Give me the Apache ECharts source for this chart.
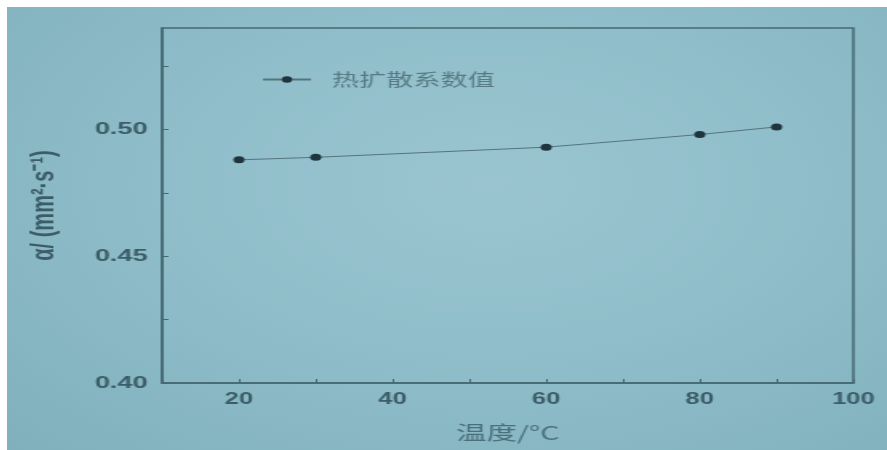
<!DOCTYPE html>
<html>
<head>
<meta charset="utf-8">
<script src="https://cdn.jsdelivr.net/npm/echarts@6/dist/echarts.min.js"></script>
<style>
  html, body { margin: 0; padding: 0; background: #ffffff; }
  #page { position: relative; width: 887px; height: 450px; overflow: hidden; background: #ffffff; }
  #wrap {
    position: absolute; left: 7px; top: 7px; width: 880px; height: 443px; overflow: hidden;
    background: radial-gradient(ellipse at 55% 40%, #9ac5d0 0%, #8dbcc8 55%, #7fb0bc 100%);
  }
  /* the figure is drawn narrow and widened horizontally */
  #chart { width: 550px; height: 443px; transform: scaleX(1.6); transform-origin: 0 0; }
</style>
</head>
<body>
<div id="page"><div id="wrap"><div id="chart"></div></div></div>
<script>
// temperature (°C) and thermal diffusivity α (mm²·s⁻¹)
const temps = [20, 30, 60, 80, 90];
const alpha = [0.488, 0.489, 0.493, 0.498, 0.501];
const seriesName = '热扩散系数值';
const xName = '温度/°C';
const yName = 'α/ (mm²·s⁻¹)';

const ink = '#3c5d68';
const axisInk = '#456873';

const chart = echarts.init(document.getElementById('chart'), null, { renderer: 'canvas' });
chart.setOption({
  backgroundColor: 'transparent',
  animation: false,
  grid: {
    left: 97, right: 21, top: 21, bottom: 67,
    show: true, borderColor: axisInk, borderWidth: 1.5, backgroundColor: 'transparent'
  },
  legend: {
    left: 154, top: 59,
    itemWidth: 30, itemHeight: 8,
    data: [seriesName],
    textStyle: {
      color: '#587a85', fontSize: 17, fontFamily: 'Noto Sans CJK SC',
      padding: [0, 0, 0, 8]
    }
  },
  xAxis: {
    type: 'value', min: 10, max: 100, interval: 10,
    name: xName, nameLocation: 'middle', nameGap: 40,
    nameTextStyle: { color: '#4b6e7b', fontSize: 19, fontFamily: 'Noto Sans CJK SC' },
    axisLine: { show: true, lineStyle: { color: axisInk, width: 1.5 } },
    axisTick: { show: true, inside: true, length: 4, lineStyle: { color: axisInk } },
    splitLine: { show: false },
    axisLabel: {
      color: ink, fontSize: 16, fontWeight: 'bold', fontFamily: 'Liberation Sans', margin: 9,
      formatter: v => (v % 20 === 0 ? String(v) : '')
    }
  },
  yAxis: {
    type: 'value', min: 0.40, max: 0.54, interval: 0.025,
    name: yName, nameLocation: 'middle', nameGap: 64, nameRotate: 90,
    nameTextStyle: { color: ink, fontSize: 20, fontWeight: 'bold', fontFamily: 'Liberation Sans' },
    axisLine: { show: true, lineStyle: { color: axisInk, width: 1.5 } },
    axisTick: { show: true, inside: true, length: 4, lineStyle: { color: axisInk } },
    splitLine: { show: false },
    axisLabel: {
      color: ink, fontSize: 17, fontWeight: 'bold', fontFamily: 'Liberation Sans', margin: 9,
      showMaxLabel: false,
      formatter: v => (Math.abs(v * 20 - Math.round(v * 20)) < 1e-6 ? v.toFixed(2) : '')
    }
  },
  series: [{
    name: seriesName,
    type: 'line',
    data: temps.map((t, i) => [t, alpha[i]]),
    symbol: 'circle', symbolSize: 7,
    itemStyle: { color: '#1f343c' },
    lineStyle: { color: '#55747e', width: 1 }
  }]
});
</script>
</body>
</html>
